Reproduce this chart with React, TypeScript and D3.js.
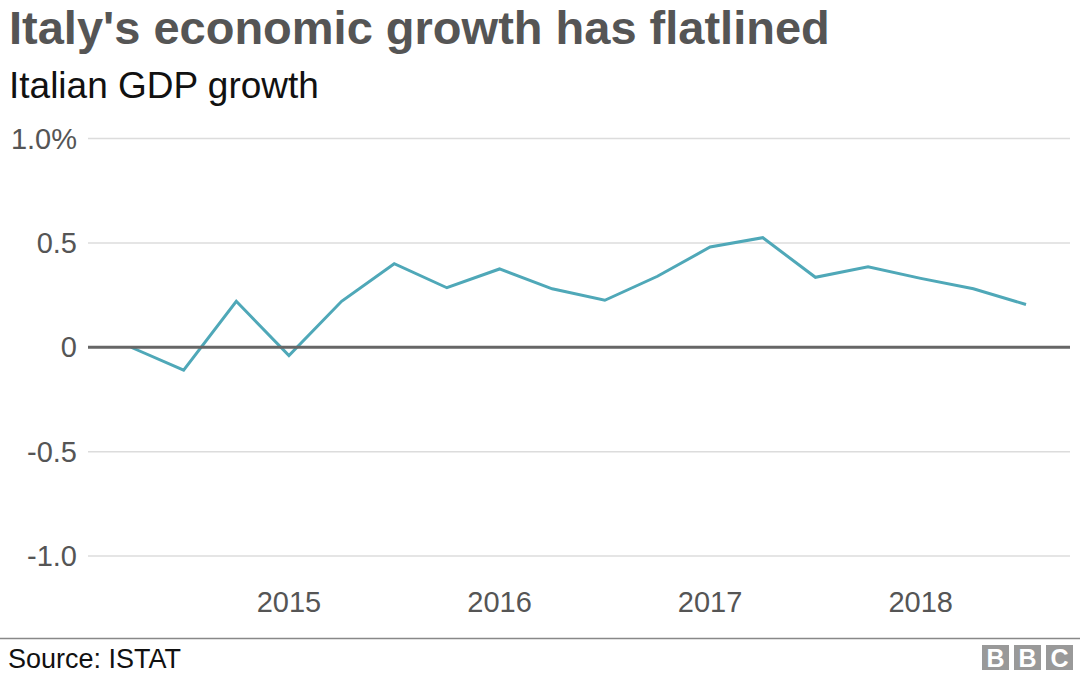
import React from "react";
import * as d3 from "d3";

const quarters = [
  "2014Q2","2014Q3","2014Q4",
  "2015Q1","2015Q2","2015Q3","2015Q4",
  "2016Q1","2016Q2","2016Q3","2016Q4",
  "2017Q1","2017Q2","2017Q3","2017Q4",
  "2018Q1","2018Q2","2018Q3",
];
const growth = [0.0, -0.11, 0.22, -0.04, 0.22, 0.4, 0.285, 0.375, 0.28, 0.225, 0.34, 0.48, 0.525, 0.335, 0.385, 0.33, 0.28, 0.205];
const yTicks = [1.0, 0.5, 0, -0.5, -1.0];
const yTickLabels = ["1.0%", "0.5", "0", "-0.5", "-1.0"];
const xTickQuarters = ["2015Q1", "2016Q1", "2017Q1", "2018Q1"];
const xTickLabels = ["2015", "2016", "2017", "2018"];

const W = 1080;
const H = 675;
const FONT = "'Liberation Sans', Arial, Helvetica, sans-serif";

export default function App() {
  const x = d3.scalePoint<string>().domain(quarters).range([131, 1026]);
  const y = d3.scaleLinear().domain([-1, 1]).range([556, 138.5]);
  const line = d3
    .line<number>()
    .x((_, i) => x(quarters[i]) as number)
    .y((d) => y(d));

  return (
    <svg
      width={W}
      height={H}
      style={{ position: "absolute", left: 0, top: 0, background: "#fff" }}
      fontFamily={FONT}
    >
      <rect width={W} height={H} fill="#fff" />
      <text x={9} y={44} fontSize={47} fontWeight="bold" fill="#555">
        Italy's economic growth has flatlined
      </text>
      <text x={9} y={98} fontSize={37} fill="#111">
        Italian GDP growth
      </text>

      {yTicks.map((t, i) => (
        <g key={t}>
          {t !== 0 && (
            <line x1={88} x2={1070} y1={y(t)} y2={y(t)} stroke="#dcdcdc" strokeWidth={1.5} />
          )}
          <text x={77} y={y(t) + 10} fontSize={29} fill="#555" textAnchor="end">
            {yTickLabels[i]}
          </text>
        </g>
      ))}

      {xTickQuarters.map((q, i) => (
        <text key={q} x={x(q) as number} y={612} fontSize={29} fill="#555" textAnchor="middle">
          {xTickLabels[i]}
        </text>
      ))}

      <path d={line(growth) || ""} fill="none" stroke="#4fa8b8" strokeWidth={3} strokeLinejoin="miter" />
      <line x1={88} x2={1070} y1={y(0)} y2={y(0)} stroke="#666" strokeWidth={3} />

      <line x1={0} x2={W} y1={638.5} y2={638.5} stroke="#888" strokeWidth={1.5} />
      <text x={8} y={668} fontSize={27} fill="#111">
        Source: ISTAT
      </text>

      {["B", "B", "C"].map((c, i) => (
        <g key={i}>
          <rect x={982 + i * 32} y={645} width={27} height={25} fill="#999" />
          <text
            x={982 + i * 32 + 13.5}
            y={667}
            fontSize={25}
            fontWeight="bold"
            fill="#fff"
            textAnchor="middle"
          >
            {c}
          </text>
        </g>
      ))}
    </svg>
  );
}
